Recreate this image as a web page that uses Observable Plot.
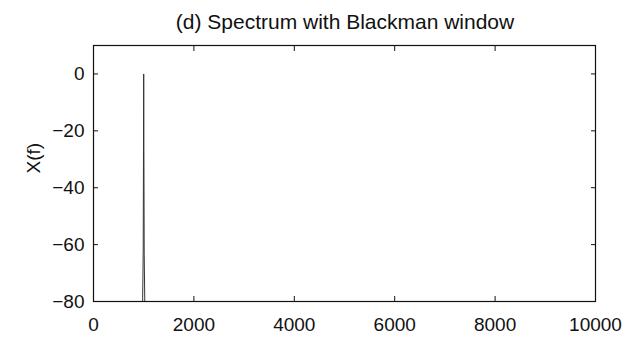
<!DOCTYPE html>
<html>
<head>
<meta charset="utf-8">
<script src="https://cdn.jsdelivr.net/npm/d3@7"></script>
<script src="https://cdn.jsdelivr.net/npm/@observablehq/plot@0.6"></script>
<style>
  body { margin: 0; background: #fff; font-family: "Liberation Sans", Arial, sans-serif; }
  #title { width: 570px; padding-left: 60px; height: 32px; line-height: 44px; text-align: center; font-size: 21px; color: #111; white-space: nowrap; }
</style>
</head>
<body>
<div id="title">(d) Spectrum with Blackman window</div>
<div id="chart"></div>
<script>
// Magnitude spectrum (dB) around the 1 kHz tone; everything else lies below −80 dB
const freq = [800, 880, 940, 975, 990, 996, 999, 1000, 1001, 1004, 1010, 1025, 1060, 1120, 1200];
const level = [-130, -110, -95, -85, -63, -27, -7, 0, -7, -27, -63, -85, -95, -110, -130];
const xTicks = [0, 2000, 4000, 6000, 8000, 10000];
const yTicks = [-80, -60, -40, -20, 0];

const data = freq.map((f, i) => ({f, db: level[i]}));
const fmt = d => d < 0 ? "\u2212" + Math.abs(d) : String(d);
const blank = () => "";

const chart = Plot.plot({
  width: 630,
  height: 306,
  marginLeft: 93,
  marginRight: 35,
  marginTop: 13,
  marginBottom: 37,
  style: {fontFamily: "'Liberation Sans', Arial, sans-serif", fontSize: "19px", color: "#111", background: "#fff", overflow: "visible"},
  x: {domain: [0, 10000]},
  y: {domain: [-80, 10]},
  marks: [
    Plot.lineY(data, {x: "f", y: "db", stroke: "#333", strokeWidth: 1, clip: true}),
    Plot.frame({stroke: "#111", strokeWidth: 1.2}),
    // tick labels
    Plot.axisX(xTicks, {anchor: "bottom", tickSize: 0, tickPadding: 16, label: null, tickFormat: fmt}),
    Plot.axisY(yTicks, {anchor: "left", tickSize: 0, tickPadding: 9, label: null, tickFormat: fmt}),
    // inward ticks on all four sides
    Plot.axisX(xTicks, {anchor: "bottom", tickSize: -5, tickFormat: blank, label: null, stroke: "#111"}),
    Plot.axisX(xTicks, {anchor: "top", tickSize: -5, tickFormat: blank, label: null, stroke: "#111"}),
    Plot.axisY(yTicks, {anchor: "left", tickSize: -5, tickFormat: blank, label: null, stroke: "#111"}),
    Plot.axisY(yTicks, {anchor: "right", tickSize: -5, tickFormat: blank, label: null, stroke: "#111"}),
    Plot.text(["X(f)"], {frameAnchor: "left", dx: -60, rotate: -90, fontSize: 19, fill: "#111"})
  ]
});
document.getElementById("chart").appendChild(chart);
</script>
</body>
</html>
